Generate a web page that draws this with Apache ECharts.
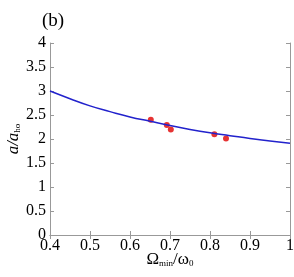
<!DOCTYPE html>
<html><head><meta charset="utf-8">
<script src="https://cdn.jsdelivr.net/npm/echarts@6/dist/echarts.min.js"></script>
<style>html,body{margin:0;padding:0;background:#fff}#c{width:294px;height:277px}</style>
</head><body><div id="c"></div>
<script>
var curveX = [0.40, 0.45, 0.50, 0.55, 0.60, 0.65, 0.70, 0.75, 0.80, 0.85, 0.90, 0.95, 1.00];
var curveY = [3.00, 2.84, 2.69, 2.57, 2.46, 2.37, 2.28, 2.20, 2.13, 2.07, 2.01, 1.96, 1.91];
var pointX = [0.652, 0.692, 0.702, 0.811, 0.840];
var pointY = [2.40, 2.29, 2.20, 2.10, 2.01];
var xTicks = ['0.4','0.5','0.6','0.7','0.8','0.9','1'];
var yTicks = ['0','0.5','1','1.5','2','2.5','3','3.5','4'];

var font = 'Liberation Serif';
var chart = echarts.init(document.getElementById('c'));
var axLine = {lineStyle:{color:'#999', width:1}};
var tick = {inside:true, length:4, lineStyle:{color:'#999'}};
chart.setOption({
  animation:false,
  grid:{left:50, right:4, top:43, bottom:42, outerBoundsMode:'none', containLabel:false},
  title:{text:'(b)', left:37, top:7, textStyle:{fontFamily:font, fontSize:19, fontWeight:'normal', color:'#000'}},
  xAxis:[{
    type:'value', min:0.4, max:1.0, interval:0.1,
    axisLine:axLine, axisTick:tick, splitLine:{show:false},
    axisLabel:{fontFamily:font, fontSize:16, color:'#000', margin:3,
      formatter:function(v){return xTicks[Math.round((v-0.4)*10)];}},
    name:'{m|\u03A9}{s|min}{m|/\u03C9}{s|0}', nameLocation:'middle', nameGap:13, nameMoveOverlap:false,
    nameTextStyle:{rich:{
      m:{fontFamily:font, fontSize:17, color:'#000', verticalAlign:'bottom', lineHeight:20},
      s:{fontFamily:font, fontSize:9, color:'#000', verticalAlign:'bottom', lineHeight:14}
    }}
  },{
    type:'value', min:0.4, max:1.0, interval:0.1, position:'top',
    axisLine:axLine, axisTick:tick, axisLabel:{show:false}, splitLine:{show:false}
  }],
  yAxis:[{
    type:'value', min:0, max:4, interval:0.5,
    axisLine:axLine, axisTick:tick, splitLine:{show:false},
    axisLabel:{fontFamily:font, fontSize:16, color:'#000', margin:4,
      formatter:function(v){return yTicks[Math.round(v*2)];}},
    name:'{m|a/a}{s|ho}', nameLocation:'middle', nameGap:28, nameRotate:90, nameMoveOverlap:false,
    nameTextStyle:{rich:{
      m:{fontFamily:font, fontSize:17, fontStyle:'italic', color:'#000', verticalAlign:'bottom', lineHeight:20},
      s:{fontFamily:font, fontSize:9, color:'#000', verticalAlign:'bottom', lineHeight:14}
    }}
  },{
    type:'value', min:0, max:4, interval:0.5, position:'right',
    axisLine:axLine, axisTick:tick, axisLabel:{show:false}, splitLine:{show:false}
  }],
  series:[{
    type:'line', smooth:true, showSymbol:false,
    data:curveX.map(function(x,i){return [x,curveY[i]];}),
    lineStyle:{color:'#2222cc', width:1.5}
  },{
    type:'scatter', symbolSize:6,
    data:pointX.map(function(x,i){return [x,pointY[i]];}),
    itemStyle:{color:'#e00000'}
  }]
});
</script></body></html>
